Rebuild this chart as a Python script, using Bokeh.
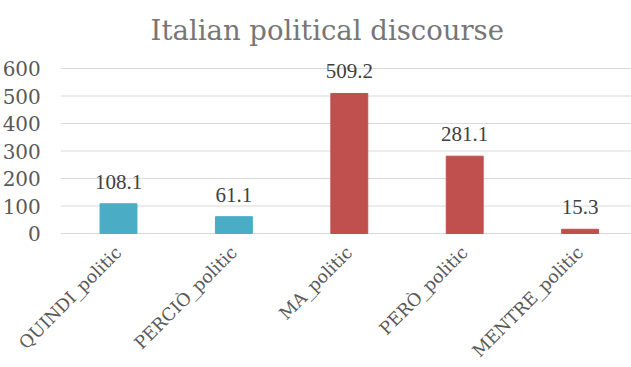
import math
from bokeh.plotting import figure
from bokeh.models import ColumnDataSource, Range1d, FixedTicker, LabelSet, Label
from bokeh.embed import file_html
from bokeh.resources import INLINE

categories = ["QUINDI_politic", "PERCIÒ_politic", "MA_politic", "PERÒ_politic", "MENTRE_politic"]
values = [108.1, 61.1, 509.2, 281.1, 15.3]
colors = ["#4BACC6", "#4BACC6", "#C0504D", "#C0504D", "#C0504D"]
label_texts = ["108.1", "61.1", "509.2", "281.1", "15.3"]
y_ticks = [0, 100, 200, 300, 400, 500, 600]
title_text = "Italian political discourse"

FONT = "DejaVu Serif"

# ---- layout (pixels) ----
W, H = 631, 367
PLOT_LEFT = 60.3      # left edge of the category area
PX_PER_CAT = 115.4    # width of one category slot
Y0_PX = 233           # vertical pixel of the value 0 (from top)
PX_PER_Y = 0.275      # pixels per value unit

x_start = -PLOT_LEFT / PX_PER_CAT
x_end = (W - PLOT_LEFT) / PX_PER_CAT
top_px = Y0_PX - y_ticks[-1] * PX_PER_Y
y_start = -(H - Y0_PX) / PX_PER_Y
y_end = y_ticks[-1] + top_px / PX_PER_Y

xs = [i + 0.5 for i in range(len(categories))]
src = ColumnDataSource(dict(x=xs, cat=categories, val=values, col=colors, lab=label_texts))

p = figure(x_range=Range1d(x_start, x_end), y_range=Range1d(y_start, y_end),
           width=W, height=H, output_backend="svg", toolbar_location=None,
           min_border=0, min_border_left=0, min_border_right=0,
           min_border_top=0, min_border_bottom=0)
p.outline_line_color = None
p.background_fill_color = "white"
p.border_fill_color = "white"
p.xgrid.grid_line_color = None
p.ygrid.grid_line_color = None

# horizontal gridlines across the category area
p.segment(x0=0, x1=x_end, y0=y_ticks, y1=y_ticks, line_color="#D9D9D9", line_width=1)

p.vbar(x="x", top="val", width=0.32, color="col", source=src)

# value labels above the bars
p.add_layout(LabelSet(x="x", y="val", text="lab", source=src, text_align="center",
                      text_baseline="alphabetic", y_offset=15, text_font=FONT,
                      text_font_size="21px", text_color="#404040"))

# chart title
p.add_layout(Label(x=len(categories) / 2, y=y_ticks[-1], text=title_text, text_align="center",
                   text_baseline="alphabetic", x_offset=-22, y_offset=39,
                   text_font=FONT, text_font_size="27.5px", text_color="#767676"))

# y axis drawn at the left edge of the category area
yax = p.yaxis[0]
yax.fixed_location = 0
yax.ticker = FixedTicker(ticks=y_ticks)
yax.axis_line_color = None
yax.major_tick_line_color = None
yax.minor_tick_line_color = None
yax.major_tick_out = 0
yax.major_tick_in = 0
yax.major_label_text_font = FONT
yax.major_label_text_font_size = "20px"
yax.major_label_text_color = "#595959"
yax.major_label_standoff = 20

# x axis drawn at value 0, category names as rotated labels
xax = p.xaxis[0]
xax.fixed_location = 0
xax.ticker = FixedTicker(ticks=xs)
xax.major_label_overrides = {x: c for x, c in zip(xs, categories)}
xax.major_label_orientation = math.pi / 4
xax.axis_line_color = None
xax.major_tick_line_color = None
xax.minor_tick_line_color = None
xax.major_tick_out = 0
xax.major_tick_in = 0
xax.major_label_text_font = FONT
xax.major_label_text_font_size = "17.5px"
xax.major_label_text_color = "#595959"
xax.major_label_standoff = 16

open("out.html", "w").write(file_html(p, INLINE))
